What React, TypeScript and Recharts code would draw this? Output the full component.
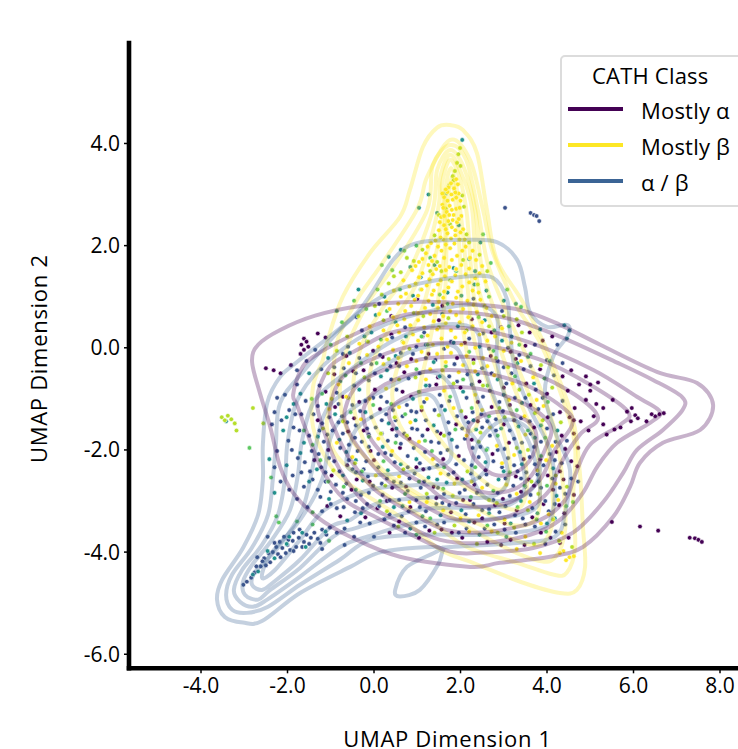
import { ScatterChart, Scatter, XAxis, YAxis, Legend } from 'recharts';

const xTicks = [-4, -2, 0, 2, 4, 6, 8];
const yTicks = [-6, -4, -2, 0, 2, 4];
const legendNames = ['Mostly α', 'Mostly β', 'α / β'];
const legendColors = ['#440154', '#fde725', '#3b6495'];

type Pair = number[];

const yellowDots: Pair[] = [
  [1.9,3.3],[1.78,3.22],[1.85,3.12],[1.7,3.05],[1.96,3.02],[1.62,2.95],[1.82,2.9],[2.0,2.88],[1.75,2.78],[1.58,2.8],[1.9,2.72],[1.68,2.66],[1.84,2.6],[2.02,2.58],[1.55,2.56],[1.72,2.48],[1.92,2.46],[1.62,2.4],[1.8,2.36],[2.06,2.32],[1.5,2.3],[1.7,2.24],[1.88,2.2],[1.98,2.12],[1.6,2.12],[1.32,2.05],[1.48,1.98],[1.76,1.95],[2.12,1.98],[2.28,1.9],[1.2,1.85],[1.4,1.8],[1.62,1.76],[1.92,1.8],[2.36,1.72],[2.5,1.6],[1.04,1.68],[1.26,1.62],[1.52,1.6],[1.74,1.58],[2.02,1.62],[2.2,1.55],[.88,1.52],[1.12,1.46],[1.36,1.44],[1.64,1.4],[1.88,1.42],[2.34,1.36],[2.58,1.3],[.68,1.32],[.96,1.26],[1.22,1.22],[1.48,1.24],[1.72,1.18],[2.04,1.2],[2.28,1.12],[.46,1.12],[.74,1.06],[1.02,1.02],[1.34,1.04],[1.6,.98],[1.9,.98],[2.16,.92],[2.46,.94],[.28,.9],[.56,.86],[.86,.82],[1.18,.78],[1.48,.78],[1.76,.72],[2.06,.76],[2.38,.7],[2.72,.62],[.12,.66],[.44,.6],[.7,.56],[1.02,.54],[1.38,.52],[1.66,.48],[1.98,.5],[2.28,.42],[2.96,.38],[-.1,.42],[.22,.34],[.58,.3],[.9,.26],[1.24,.24],[1.56,.18],[1.88,.2],[2.62,.14],[3.18,.1],[-.34,.08],[.1,.02],[.44,-.04],[1.1,-.08],[1.46,-.12],[1.78,-.1],[2.14,-.16],[2.52,-.2],[3.4,-.26],[-.58,-.3],[.76,-.36],[1.3,-.42],[1.96,-.48],[2.78,-.54],[3.68,-.58],[-.82,-.72],[.28,-.8],[1.62,-.84],[2.34,-.92],[3.12,-1.02],[3.92,-1.14],[-1.04,-1.2],[-.3,-1.4],[.84,-1.46],[2.68,-1.56],[3.5,-1.7],[4.12,-1.92],[-.86,-1.86],[.42,-2.02],[1.36,-2.18],[2.96,-2.26],[3.78,-2.4],[.04,-2.5],[1.86,-2.66],[2.5,-2.74],[3.3,-2.86],[4.26,-2.98],[.82,-3.02],[1.6,-3.18],[2.42,-3.28],[3.02,-3.36],[3.86,-3.44],[4.34,-3.62],[2.2,-3.6],[3.5,-3.7],[4.38,-3.98],[4.52,-4.1],[4.62,-4.08],[4.44,-4.16],[4.3,-4.02],
  [1.94,3.2],[1.72,3.14],[1.66,3.1],[1.88,3.04],[1.79,3.0],[1.58,3.02],[1.9,2.94],[1.7,2.88],[1.6,2.74],[1.98,2.74],[1.8,2.7],[1.74,2.6],[1.62,2.58],[1.96,2.52],[1.82,2.5],[1.52,2.46],[1.66,2.32],[1.88,2.3],[2.0,2.26],[1.78,2.14],[1.54,2.16],[1.42,2.1],[2.1,2.12],[1.86,2.04],[1.66,2.02],[1.24,1.98],[1.56,1.9],[2.04,1.9],[2.22,1.76],[1.8,1.72],[1.34,1.7],[1.12,1.74],[.96,1.6],[1.44,1.54],[1.66,1.52],[1.9,1.54],[2.12,1.44],[2.44,1.46],[1.04,1.38],[1.28,1.34],[1.54,1.32],[1.8,1.3],[2.2,1.28],[.82,1.2],[1.1,1.14],[1.38,1.12],[1.62,1.1],[1.94,1.1],[2.42,1.08],[.62,1.0],[.94,.94],[1.26,.92],[1.5,.9],[1.82,.86],[2.3,.84],[2.6,.78],[.36,.76],[.72,.72],[1.02,.68],[1.3,.66],[1.6,.62],[1.9,.64],[2.18,.6],[2.5,.5],[.54,.44],[.84,.44],[1.16,.4],[1.46,.36],[1.78,.34],[2.1,.3],[2.44,.26],[2.8,.22],[.3,.16],[.68,.1],[1.02,.14],[1.36,.06],[1.7,.02],[2.02,.06],[2.34,.0],[3.0,-.06],[-.16,-.14],[.22,-.32],[.56,-.2],[.98,-.26],[1.2,-.62],[1.66,-.28],[2.06,-.34],[2.34,-.46],[2.62,-.36],[3.2,-.7],[-.64,-.96],[-.1,-1.0],[.58,-1.16],[1.22,-1.0],[1.84,-1.18],[2.5,-1.22],[3.48,-1.34],[3.76,-1.02],[.1,-1.78],[1.04,-1.84],[2.14,-1.72],[2.84,-1.92],[3.24,-2.1],[3.98,-2.2],[4.2,-2.66],[-.5,-2.14],[.58,-2.52],[1.54,-2.46],[2.26,-2.62],[3.06,-2.68],[3.6,-3.02],[4.04,-3.26],[1.22,-3.02],[2.0,-3.34],[2.72,-3.6],[3.3,-3.94],[3.84,-4.02],
];
const limeDots: Pair[] = [
  [1.99,3.91],[1.95,3.79],[1.92,3.62],[1.87,3.46],[1.82,3.36],[1.74,3.18],[2.08,2.76],[1.66,2.72],[2.14,2.22],[1.4,2.2],[1.12,1.92],[.92,1.7],[2.44,1.82],[.62,1.48],[1.56,1.5],[2.62,1.5],[.34,1.26],[.18,1.04],[1.76,1.32],[.02,.82],[.92,.68],[2.56,.82],[-.36,.62],[1.5,.4],[3.0,.62],[-.62,.22],[.66,.12],[2.14,.34],[3.42,.3],[-.86,-.06],[.34,-.22],[2.3,-.3],[3.1,-.38],[3.86,-.34],[-1.06,-.5],[.58,-.62],[1.84,-.7],[3.36,-.82],[-.6,-.98],[1.1,-1.16],[2.02,-1.24],[3.02,-1.36],[3.72,-1.28],[-1.18,-1.58],[.16,-1.68],[1.62,-1.72],[2.42,-1.84],[3.3,-1.96],[-.44,-2.26],[.68,-2.38],[2.16,-2.42],[3.64,-2.62],[4.2,-2.5],[1.22,-2.86],[2.84,-3.04],[3.56,-3.18],[4.14,-3.36],[.3,-3.2],[1.86,-3.48],[2.86,-3.62],[4.28,-3.78],[-3.52,-1.36],[-3.45,-1.42],[-3.38,-1.33],[-3.3,-1.4],[-3.22,-1.48],[-3.18,-1.62],[-2.8,-1.18],[-2.56,-1.48],
  [2.0,3.56],[1.84,3.28],[2.04,2.98],[1.76,2.42],[1.5,2.6],[2.2,2.06],[.76,1.76],[1.46,1.68],[2.06,1.72],[.46,1.4],[1.3,1.5],[2.4,1.24],[.22,.54],[1.14,.62],[1.72,.58],[2.66,.42],[3.3,.56],[-.14,.12],[.82,-.02],[1.58,-.44],[2.82,-.2],[3.58,-.92],[-.22,-.58],[.96,-.58],[2.52,-.74],[4.12,-.78],[-.98,-1.0],[.48,-1.36],[1.5,-1.32],[2.9,-1.18],[3.9,-1.42],[-.72,-1.44],[.76,-1.72],[2.46,-1.66],[3.56,-2.0],[4.32,-1.46],[-.94,-2.4],[.26,-2.7],[1.82,-2.9],[2.66,-2.98],[3.8,-2.86],[4.46,-2.72],[.56,-3.5],[1.4,-3.62],[2.38,-3.84],[3.24,-3.52],[3.7,-3.84],[4.58,-3.9],
];
const greenDots: Pair[] = [
  [1.62,3.02],[.98,2.0],[2.52,2.22],[1.3,1.76],[.7,1.9],[2.7,1.66],[.42,1.52],[1.9,1.5],[3.08,1.14],[.08,1.14],[1.08,1.14],[2.66,1.0],[-.46,.92],[1.7,.86],[3.4,.8],[.3,.72],[2.2,.6],[-.74,.5],[.84,.42],[3.12,.42],[1.24,.06],[-1.0,.06],[2.76,-.06],[.06,-.3],[3.62,-.12],[1.66,-.36],[-.66,-.54],[1.04,-.86],[2.62,-.74],[3.94,-.6],[-1.44,-1.0],[.4,-1.1],[2.26,-1.18],[3.3,-1.22],[-1.62,-1.62],[-.12,-1.74],[1.18,-1.82],[2.86,-1.72],[3.96,-1.76],[-1.24,-2.2],[.22,-2.22],[1.62,-2.34],[3.14,-2.44],[4.0,-2.7],[-.7,-2.72],[.72,-2.86],[2.24,-2.92],[3.32,-3.12],[4.44,-3.1],[1.3,-3.34],[2.62,-3.48],[3.98,-3.6],[-1.42,-3.22],[-1.78,-3.4],[-2.26,-3.3],[-1.04,-3.78],[-2.88,-1.96],[-2.38,-2.54],[-2.2,-3.42],[-1.42,-3.46],
  [.18,1.62],[.6,1.14],[1.52,1.04],[2.42,.6],[-.18,.76],[1.1,.22],[2.2,-.08],[3.36,.06],[.16,.16],[-.3,-.3],[.98,-.42],[2.06,-.62],[3.26,-.56],[-1.2,-.9],[-.02,-1.12],[1.76,-.96],[2.66,-1.34],[4.02,-1.06],[-.54,-1.26],[.72,-1.3],[1.88,-1.6],[3.56,-1.62],[-1.42,-1.9],[.5,-1.86],[1.34,-2.02],[2.6,-2.0],[3.86,-2.12],[-.28,-2.42],[1.04,-2.62],[2.34,-2.34],[3.48,-2.7],[-1.06,-2.62],[.14,-3.0],[1.6,-2.76],[2.76,-2.8],[3.76,-3.36],[4.6,-3.02],[.98,-3.66],
];
const tealDots: Pair[] = [
  [2.04,4.07],[1.66,3.02],[1.26,3.0],[1.04,2.74],[1.46,2.64],[1.96,2.4],[1.4,1.62],[.62,1.92],[.34,1.78],[2.2,1.74],[2.46,2.06],[1.84,1.56],[1.08,1.38],[.9,1.02],[2.32,1.24],[2.02,1.02],[3.28,.86],[-.36,1.14],[.04,.64],[1.58,.66],[2.56,.54],[2.78,.34],[3.18,.22],[3.84,.36],[4.4,.44],[4.52,.34],[4.46,.18],[-.86,.72],[.5,.5],[1.94,.42],[-.22,.22],[1.2,.06],[2.44,.02],[3.56,-.18],[-1.06,-.2],[.3,-.44],[1.52,-.56],[2.86,-.62],[-1.5,-.5],[-.34,-.82],[.9,-1.0],[2.3,-1.42],[3.42,-1.08],[-1.86,-1.1],[-.9,-1.3],[1.38,-1.52],[3.86,-1.52],[-2.1,-1.62],[-1.3,-1.74],[.52,-1.58],[2.62,-1.98],[-1.7,-2.06],[-.64,-2.04],[.98,-2.18],[3.42,-2.28],[-2.42,-2.18],[-2.3,-2.84],[-.26,-2.6],[1.46,-2.58],[2.88,-2.58],[-1.04,-2.96],[.46,-3.12],[2.02,-3.18],[3.16,-3.44],[-.62,-3.38],[.84,-3.54],[2.44,-3.66],[3.78,-3.24],[4.18,-3.34],[-3.42,-1.44],[-1.58,-3.9],[-2.02,-3.84],[-2.3,-4.12],[-2.68,-4.38],[-1.12,-3.6],
  [2.34,1.5],[.84,1.58],[1.7,1.08],[2.6,1.12],[.24,1.0],[1.36,.84],[3.0,.92],[-.06,.3],[.74,.22],[1.84,.1],[2.96,.14],[-.56,-.1],[.5,-.16],[1.38,-.28],[2.4,-.52],[3.32,-.3],[4.06,-.26],[-1.7,-.9],[-.78,-.66],[.16,-.56],[1.2,-.74],[2.06,-.86],[3.0,-.92],[3.7,-.7],[-2.02,-1.36],[-1.1,-1.1],[-.2,-1.26],[.34,-1.48],[1.64,-1.22],[2.36,-1.6],[3.34,-1.54],[4.24,-1.62],[-1.62,-1.86],[-.8,-1.8],[.2,-1.94],[.96,-1.42],[1.8,-1.8],[2.94,-1.58],[3.72,-1.76],[-2.02,-2.3],[-1.32,-2.38],[-.42,-2.2],[.62,-2.28],[1.68,-2.64],[2.58,-2.24],[3.38,-2.04],[4.14,-2.36],[-1.5,-2.62],[-.72,-2.5],[.32,-2.4],[1.26,-2.54],[2.04,-2.58],[3.0,-2.42],[3.8,-2.62],[-.42,-2.78],[.66,-3.1],[1.54,-3.28],[2.66,-3.24],[3.4,-3.0],[4.22,-2.9],[-.3,-3.24],[1.12,-3.3],[2.2,-3.4],[3.06,-3.7],[4.0,-3.44],[-2.46,-3.98],[-1.96,-3.7],[-2.8,-4.44],[-1.66,-3.62],
];
const blueDots: Pair[] = [
  [3.03,2.74],[3.62,2.64],[3.7,2.6],[3.76,2.58],[3.82,2.48],[.12,.86],[-.4,.6],[2.3,.96],[2.52,.28],[2.96,.72],[3.72,.06],[4.24,.06],[.72,.4],[1.16,.3],[-1.26,-.74],[-1.78,-.72],[-2.06,-.92],[-2.24,-.98],[-1.96,-1.22],[-2.3,-1.26],[-2.14,-1.42],[-1.68,-1.3],[-1.86,-1.56],[-2.36,-1.5],[-1.4,-1.3],[-1.2,-1.48],[-1.5,-1.72],[-1.98,-1.82],[-2.24,-2.02],[-1.76,-2.16],[-1.44,-2.02],[-1.16,-1.84],[-.96,-1.62],[-.74,-1.34],[-.5,-1.12],[-.2,-1.04],[.16,-.96],[.52,-.82],[.8,-.6],[1.06,-.5],[1.28,-.74],[.4,-.62],[-.12,-.64],[-.46,-.74],[-.86,-.88],[-.06,-.32],[-.34,-.2],[-.72,-.12],[.62,-.1],[.98,.02],[1.42,-.24],[1.86,-.32],[2.16,-.52],[2.5,-.4],[2.86,-.26],[3.18,-.5],[3.46,-.42],[3.74,-.82],[4.16,-.54],[3.26,-.98],[2.9,-1.06],[2.52,-.96],[2.14,-.98],[1.74,-1.04],[1.4,-1.22],[.98,-1.26],[.66,-1.34],[.28,-1.3],[-.06,-1.36],[-.42,-1.52],[-.72,-1.68],[-.58,-1.9],[-.28,-1.84],[.04,-1.56],[.32,-1.82],[.7,-1.68],[1.0,-1.6],[1.32,-1.84],[1.72,-1.46],[2.04,-1.58],[2.48,-1.3],[2.82,-1.4],[3.14,-1.62],[3.6,-1.44],[4.14,-1.3],[4.36,-1.04],[3.7,-1.94],[3.42,-1.86],[3.02,-1.98],[2.68,-1.72],[2.28,-1.96],[1.92,-1.94],[1.54,-2.06],[1.18,-2.04],[.78,-2.12],[.48,-2.24],[.1,-2.08],[-.18,-2.22],[-.5,-2.38],[-.92,-2.22],[-1.12,-2.44],[-1.48,-2.42],[-1.88,-2.5],[-2.16,-2.62],[-1.62,-2.72],[-1.3,-2.78],[-.88,-2.68],[-.62,-2.96],[-.3,-2.88],[-.02,-2.7],[.3,-2.56],[.62,-2.64],[.94,-2.46],[1.28,-2.36],[1.72,-2.48],[2.08,-2.2],[2.42,-2.14],[2.76,-2.22],[3.1,-2.16],[3.52,-2.44],[3.92,-2.3],[4.06,-2.08],[4.34,-2.26],[4.46,-1.82],[4.56,-2.56],[4.72,-2.62],[4.42,-2.86],[3.96,-3.0],[3.62,-2.88],[3.22,-2.7],[2.86,-2.84],[2.44,-2.54],[2.1,-2.78],[1.62,-2.86],[1.08,-2.74],[.58,-2.98],[.2,-2.88],[-.16,-3.06],[-.44,-3.22],[-.86,-3.14],[-1.2,-3.2],[-.1,-3.44],[.24,-3.36],[.64,-3.3],[1.06,-3.12],[1.44,-3.06],[1.9,-3.04],[2.3,-3.06],[2.66,-3.16],[3.04,-3.1],[3.44,-3.34],[3.72,-3.5],[4.04,-3.2],[4.42,-3.46],[.98,-3.42],[1.62,-3.42],[2.14,-3.54],[2.78,-3.46],[3.28,-3.62],[3.96,-3.84],[-3.02,-4.64],[-2.94,-4.58],[-2.84,-4.5],[-2.76,-4.4],[-2.62,-4.28],[-2.5,-4.26],[-2.54,-4.12],[-2.4,-4.2],[-2.34,-4.0],[-2.22,-4.04],[-2.26,-3.9],[-2.12,-3.92],[-2.04,-4.02],[-2.0,-3.86],[-1.94,-3.96],[-1.88,-3.78],[-1.8,-3.9],[-1.74,-3.72],[-1.62,-3.8],[-1.56,-3.66],[-1.46,-3.72],[-1.38,-3.62],[-1.3,-3.74],[-1.2,-3.56],[-1.1,-3.66],[-2.08,-3.7],[-1.72,-3.56],[-1.2,-3.94],[-.68,-3.86],[-.46,-3.7],[.0,-3.7],[-2.7,-4.1],[-2.46,-3.7],[-.92,-.38],[-1.36,-.04],[-.28,.34],[1.78,.12],
  [-.02,-.98],[.3,-1.06],[.44,-1.22],[.76,-1.12],[1.16,-1.06],[1.52,-.92],[1.92,-.66],[2.26,-.72],[2.68,-.84],[3.06,-.7],[3.5,-.98],[3.9,-.98],[-1.58,-1.04],[-1.82,-1.3],[-1.3,-1.14],[-1.04,-1.36],[-.82,-1.1],[-.62,-1.46],[-.32,-1.24],[-.16,-1.58],[.18,-1.42],[.5,-1.42],[.86,-1.24],[1.2,-1.42],[1.56,-1.14],[1.92,-1.34],[2.28,-1.26],[2.62,-1.44],[2.98,-1.24],[3.4,-1.38],[3.8,-1.2],[-1.72,-1.62],[-1.26,-1.62],[-1.08,-1.7],[-.82,-1.46],[-.44,-1.76],[-.12,-1.7],[.18,-1.68],[.52,-1.72],[.88,-1.58],[1.12,-1.72],[1.46,-1.64],[1.74,-1.68],[2.18,-1.46],[2.5,-1.56],[2.82,-1.62],[3.24,-1.78],[3.62,-1.68],[4.0,-1.58],[-1.9,-2.0],[-1.6,-2.24],[-1.28,-2.08],[-1.04,-2.16],[-.78,-1.96],[-.38,-2.02],[-.12,-1.94],[.26,-2.06],[.62,-1.88],[.92,-1.96],[1.5,-1.86],[1.7,-2.0],[2.1,-1.78],[2.46,-1.94],[2.86,-2.0],[3.24,-2.3],[3.6,-2.14],[3.86,-1.84],[4.2,-1.84],[-2.3,-2.34],[-1.68,-2.44],[-1.22,-2.34],[-.8,-2.42],[-.58,-2.2],[-.24,-2.38],[.1,-2.34],[.4,-2.1],[.78,-2.34],[1.06,-2.26],[1.46,-2.3],[1.9,-2.28],[2.26,-2.3],[2.6,-2.48],[2.96,-2.34],[3.32,-2.42],[3.72,-2.28],[4.18,-2.2],[-1.96,-2.78],[-1.42,-2.58],[-1.12,-2.62],[-.64,-2.66],[-.42,-2.44],[-.14,-2.52],[.18,-2.66],[.46,-2.62],[.82,-2.56],[1.16,-2.62],[1.48,-2.74],[1.84,-2.44],[2.24,-2.46],[2.62,-2.68],[3.04,-2.56],[3.4,-2.56],[3.78,-2.48],[4.12,-2.56],[-1.78,-2.96],[-1.24,-2.92],[-1.0,-2.82],[-.72,-2.84],[-.42,-3.0],[-.12,-2.84],[.12,-3.1],[.36,-2.98],[.78,-2.8],[.98,-2.98],[1.24,-2.94],[1.58,-3.04],[1.98,-2.84],[2.38,-2.84],[2.76,-2.98],[3.14,-2.9],[3.5,-2.72],[3.86,-2.74],[4.3,-2.74],[-1.54,-3.12],[-1.0,-3.06],[-.7,-3.12],[-.26,-3.14],[.36,-3.26],[.8,-3.2],[1.2,-3.2],[1.74,-3.08],[2.12,-3.26],[2.5,-3.18],[2.9,-3.22],[3.26,-3.28],[3.66,-3.14],[4.18,-3.06],[-.68,-3.54],[-.32,-3.42],[.46,-3.48],[.72,-3.62],[1.18,-3.5],[1.46,-3.46],[1.96,-3.62],[2.56,-3.54],[3.02,-3.56],[3.5,-3.46],[4.2,-3.6],[-1.86,-3.62],[-1.98,-3.76],[-2.18,-3.8],[-2.3,-3.82],[-2.44,-4.02],[-2.58,-4.18],[-2.72,-4.28],[-2.16,-4.1],[-1.86,-3.98],[-1.66,-3.9],[-1.5,-3.84],[-1.24,-3.82],[-1.02,-3.52],[-.86,-3.62],[.38,-.36],[.9,-.12],[1.2,-.2],[.14,-.14],[-.6,.02],[-.16,.12],[.42,.2],[1.62,-.02],[2.2,.18],[2.66,-.02],[3.1,.0],[3.36,-.14],[-1.56,-.26],[-1.78,-.44],[-1.22,-.42],[-.7,-.4],[-.42,-.5],[.02,-.5],[.58,-.36],[1.74,-.56],[2.72,-.5],[3.0,-.38],[3.62,-.36],[4.0,-.24],[4.36,-.3],
];
const purpleDots: Pair[] = [
  [-1.62,.18],[-1.56,.12],[-1.68,.06],[-1.52,.02],[-1.62,-.04],[-1.7,-.12],[-2.5,-.4],[-2.32,-.44],[-2.16,-.5],[-1.92,-.34],[-1.3,.28],[-1.12,.2],[-.64,-.16],[.4,.62],[.98,.68],[1.12,.22],[1.58,.82],[2.1,.1],[2.94,.4],[3.34,.44],[3.6,.3],[3.9,.14],[4.12,.22],[3.16,-.08],[2.7,-.16],[.86,-.22],[.2,-.18],[-.24,-.44],[-.92,-.52],[-1.12,-.86],[.7,-.48],[1.48,-.58],[2.0,-.78],[2.44,-.66],[3.0,-.78],[3.52,-.7],[4.0,-.9],[4.36,-.56],[4.56,-.44],[4.74,-.72],[5.0,-.84],[5.18,-.68],[4.9,-.56],[5.0,-.72],[4.9,-1.02],[5.14,-1.1],[4.64,-1.18],[4.3,-1.26],[4.02,-1.36],[5.3,-1.18],[5.52,-1.02],[5.85,-1.25],[5.96,-1.18],[6.04,-1.32],[6.1,-1.38],[5.94,-1.44],[6.3,-1.44],[6.5,-1.34],[6.6,-1.3],[6.7,-1.28],[6.42,-1.3],[5.7,-1.56],[5.56,-1.6],[5.38,-1.7],[5.3,-1.5],[4.96,-1.62],[4.62,-1.68],[4.34,-1.72],[4.72,-1.96],[4.56,-2.22],[4.22,-2.04],[3.84,-2.18],[3.24,-1.42],[2.72,-1.16],[2.12,-1.36],[1.54,-1.68],[.86,-.96],[.14,-1.2],[-.34,-1.06],[-.6,-1.64],[-1.06,-2.0],[-.08,-2.02],[.6,-1.96],[1.14,-2.38],[1.96,-2.12],[2.58,-2.4],[3.28,-2.52],[4.02,-2.5],[4.7,-2.32],[4.38,-2.58],[3.7,-2.7],[2.98,-2.96],[2.22,-2.98],[1.38,-2.72],[.42,-2.74],[-.4,-2.58],[-.78,-3.3],[.08,-3.14],[.84,-3.12],[1.78,-3.22],[2.5,-3.34],[3.3,-3.18],[3.92,-3.06],[4.28,-3.08],[1.28,-3.58],[2.04,-3.72],[2.62,-3.8],[3.16,-3.76],[3.48,-3.86],[3.86,-3.62],[4.08,-3.72],[4.3,-3.82],[5.5,-3.41],[6.15,-3.5],[6.57,-3.58],[7.3,-3.72],[7.42,-3.73],[7.5,-3.76],[7.58,-3.8],
  [1.0,.96],[.4,.26],[1.5,.54],[2.26,.56],[2.72,.3],[3.5,.04],[-.48,-.46],[-.02,-.06],[.52,-.3],[1.26,-.12],[1.92,-.2],[2.3,-.24],[3.28,-.22],[3.84,-.42],[4.48,-.84],[-.72,-.96],[.02,-.82],[.66,-.86],[1.44,-.72],[2.4,-1.06],[3.14,-1.12],[3.62,-1.12],[4.52,-1.36],[4.78,-1.44],[-.9,-1.16],[-.46,-1.38],[.42,-1.6],[1.1,-1.22],[1.9,-1.5],[2.4,-1.44],[3.0,-1.5],[3.7,-1.56],[4.62,-1.42],[5.08,-1.34],[-1.3,-1.42],[-.24,-1.62],[.82,-1.78],[1.24,-1.6],[2.26,-1.8],[3.12,-1.86],[4.42,-1.98],[-1.38,-2.2],[-.62,-2.3],[.0,-2.2],[.98,-2.34],[1.6,-2.18],[2.74,-2.08],[3.46,-2.18],[4.3,-2.42],[-.98,-2.5],[-.1,-2.62],[.74,-2.72],[1.92,-2.56],[2.32,-2.68],[3.58,-2.58],[4.14,-2.78],[-.52,-2.78],[.3,-3.0],[1.44,-2.94],[2.06,-2.98],[2.8,-3.08],[3.4,-2.82],[-1.08,-3.1],[-.2,-3.32],[.58,-3.4],[1.56,-3.56],[2.32,-3.42],[3.02,-3.44],[3.66,-3.32],[4.4,-3.24],[.36,-3.62],[1.04,-3.72],[1.8,-3.62],[2.94,-3.86],[4.5,-3.72],[4.62,-2.88],
];

const dotGroups = [
  { name: 'purple', fill: '#440154', points: purpleDots },
  { name: 'blue', fill: '#3b528b', points: blueDots },
  { name: 'teal', fill: '#21918c', points: tealDots },
  { name: 'green', fill: '#5ec962', points: greenDots },
  { name: 'lime', fill: '#b5de2b', points: limeDots },
  { name: 'yellow', fill: '#fde725', points: yellowDots },
];

const yellowLevels: Pair[][] = [
  [[1.76,4.36],[2.06,4.26],[2.38,3.81],[2.61,2.7],[2.84,1.72],[3.45,.88],[4.07,-.18],[4.6,-1.41],[4.76,-2.45],[4.83,-3.5],[4.88,-4.29],[4.69,-4.74],[4.3,-4.8],[3.45,-4.6],[2.29,-4.21],[1.53,-3.95],[.6,-3.31],[-.62,-2.64],[-1.09,-2.19],[-1.41,-1.55],[-1.41,-.76],[-1.18,-.23],[-1.09,.1],[-.72,1.0],[-.09,1.86],[.6,2.56],[.83,3.09],[1.13,3.93],[1.46,4.31]],
  [[1.76,4.07],[2.22,3.68],[2.52,2.7],[2.75,1.86],[3.31,.8],[3.84,.1],[4.37,-1.02],[4.65,-1.94],[4.6,-2.98],[4.65,-3.9],[4.46,-4.4],[4.14,-4.44],[3.31,-4.21],[2.15,-3.9],[1.36,-3.43],[.21,-2.84],[-.79,-2.19],[-1.09,-1.55],[-.97,-.88],[-.86,.1],[-.39,.94],[.14,1.59],[.99,2.7],[1.23,3.35]],
  [[1.76,3.97],[2.13,3.68],[2.4,2.7],[2.64,1.62],[3.14,.55],[3.72,-.53],[4.18,-1.61],[4.37,-2.68],[4.42,-3.56],[4.18,-4.11],[3.72,-4.15],[2.68,-3.76],[1.53,-3.17],[.37,-2.58],[-.51,-1.8],[-.79,-.92],[-.6,.06],[-.09,.94],[.48,1.62],[1.23,2.7],[1.36,3.58]],
  [[1.76,3.87],[2.08,3.52],[2.34,2.7],[2.5,1.53],[2.91,.45],[3.49,-.72],[3.95,-1.7],[4.12,-2.78],[4.12,-3.46],[3.84,-3.85],[3.26,-3.76],[2.22,-3.37],[1.06,-2.88],[.09,-2.29],[-.37,-1.51],[-.49,-.82],[-.28,.06],[.25,.84],[.83,1.53],[1.36,2.7],[1.46,3.48]],
  [[1.76,3.78],[2.03,3.39],[2.27,2.7],[2.4,1.23],[2.8,.25],[3.26,-.82],[3.72,-1.8],[3.84,-2.78],[3.72,-3.37],[3.14,-3.46],[2.22,-3.07],[1.18,-2.58],[.37,-2.0],[-.09,-1.21],[-.05,-.33],[.48,.55],[1.02,1.33],[1.48,2.7],[1.53,3.33]],
  [[1.76,3.68],[1.99,3.29],[2.15,2.6],[2.32,.94],[2.68,-.04],[3.03,-.92],[3.42,-1.9],[3.53,-2.78],[3.26,-3.17],[2.45,-2.88],[1.53,-2.39],[.72,-1.7],[.42,-.92],[.72,.06],[1.18,.94],[1.6,2.6],[1.57,3.19]],
  [[1.78,3.52],[1.94,2.99],[2.06,2.21],[2.27,.35],[2.57,-.53],[2.91,-1.41],[3.14,-2.29],[2.91,-2.78],[2.22,-2.39],[1.53,-1.8],[1.06,-1.02],[1.25,-.04],[1.48,.94],[1.64,2.0],[1.64,2.99]],
  [[1.8,3.33],[1.9,2.7],[1.99,1.72],[2.03,.55],[2.22,-.43],[2.4,-1.41],[2.11,-1.61],[1.69,-1.02],[1.57,.06],[1.66,1.33],[1.69,2.6]],
];

const blueLevels: Pair[][] = [
  [[.99,2.05],[2.06,2.11],[2.84,2.07],[3.31,1.72],[3.49,1.19],[3.61,.69],[4.0,.41],[4.46,.45],[4.49,.25],[4.14,-.18],[3.95,-.92],[4.23,-1.74],[4.53,-2.39],[4.42,-3.23],[4.18,-3.7],[3.31,-3.82],[1.76,-3.9],[1.6,-3.95],[1.48,-4.25],[1.06,-4.74],[.6,-4.87],[.49,-4.74],[.76,-4.29],[1.53,-3.92],[.21,-3.99],[-.55,-4.29],[-1.71,-4.8],[-2.59,-5.35],[-3.03,-5.38],[-3.45,-5.27],[-3.63,-4.93],[-3.51,-4.54],[-3.03,-3.92],[-2.68,-3.27],[-2.57,-2.58],[-2.57,-1.9],[-2.47,-1.08],[-2.17,-.57],[-1.71,-.23],[-.39,.69],[.44,1.72]],
  [[1.13,1.27],[2.06,1.39],[2.75,1.37],[3.08,.94],[3.14,.35],[3.26,-.43],[3.61,-1.21],[4.07,-2.0],[4.18,-2.78],[4.07,-3.37],[3.72,-3.56],[2.45,-3.66],[1.06,-3.66],[-.09,-3.76],[-.79,-4.15],[-1.71,-4.64],[-2.45,-5.07],[-2.94,-5.19],[-3.28,-5.13],[-3.42,-4.84],[-3.28,-4.44],[-2.82,-3.91],[-2.45,-3.27],[-2.34,-2.58],[-2.27,-1.9],[-2.17,-1.08],[-1.6,-.43],[-.67,.45],[.25,1.04]],
  [[-1.99,-1.8],[-1.71,-.92],[-.9,-.14],[.25,.45],[1.41,.74],[2.34,.84],[2.84,.59],[2.84,-.23],[3.1,-1.12],[3.61,-1.9],[3.84,-2.78],[3.61,-3.21],[2.45,-3.37],[1.06,-3.41],[-.16,-3.7],[-.79,-3.9],[-1.71,-4.48],[-2.47,-4.93],[-2.8,-5.07],[-3.1,-4.97],[-3.24,-4.74],[-3.05,-4.35],[-2.59,-3.86],[-2.22,-3.27],[-2.06,-2.58]],
  [[-1.66,-1.8],[-1.36,-1.02],[-.55,-.43],[.49,.16],[1.53,.45],[2.34,.35],[2.5,-.23],[2.8,-1.02],[3.26,-1.8],[3.49,-2.68],[3.14,-3.07],[2.22,-3.13],[1.06,-3.17],[-.39,-3.52],[-.95,-3.7],[-1.71,-4.31],[-2.4,-4.74],[-2.68,-4.93],[-2.98,-4.84],[-3.03,-4.58],[-2.82,-4.25],[-2.36,-3.76],[-1.94,-3.17],[-1.76,-2.49]],
  [[-1.29,-1.7],[-1.02,-1.12],[-.21,-.59],[.83,-.08],[1.76,.06],[2.11,-.33],[2.45,-1.12],[2.91,-1.9],[3.1,-2.58],[2.68,-2.92],[1.53,-2.92],[.14,-3.03],[-.55,-3.37],[-1.02,-3.52],[-1.71,-4.15],[-2.34,-4.6],[-2.59,-4.74],[-2.82,-4.64],[-2.75,-4.39],[-2.17,-3.86],[-1.66,-3.17],[-1.43,-2.39]],
  [[-1.02,-1.8],[-.67,-1.31],[.14,-.86],[1.18,-.47],[1.76,-.72],[2.11,-1.51],[2.64,-2.19],[2.22,-2.62],[1.06,-2.68],[-.09,-2.78],[-1.13,-3.17],[-1.71,-3.76],[-2.29,-4.35],[-2.59,-4.5],[-2.4,-4.05],[-1.71,-3.37],[-1.2,-2.58]],
  [[-.55,-1.9],[-.32,-1.51],[.49,-1.12],[1.29,-.92],[1.64,-1.51],[1.76,-2.19],[1.06,-2.39],[.02,-2.49],[-.6,-2.35]],
  [[2.45,-1.8],[3.03,-1.41],[3.61,-1.64],[3.84,-2.39],[3.49,-2.88],[2.68,-2.98],[2.27,-2.49]],
];

const purpleLevels: Pair[][] = [
  [[-2.82,-.27],[-2.68,.06],[-2.17,.35],[-1.36,.63],[-.32,.82],[1.06,.9],[2.22,.86],[3.38,.74],[4.3,.45],[5.23,.06],[6.54,-.47],[7.47,-.69],[7.84,-1.12],[7.54,-1.61],[6.68,-1.86],[6.15,-2.25],[5.92,-2.72],[5.53,-3.31],[4.83,-3.9],[4.07,-4.09],[2.91,-4.21],[2.22,-4.29],[.6,-4.09],[-.55,-3.7],[-1.32,-3.31],[-1.87,-2.84],[-2.17,-2.33],[-2.4,-1.55],[-2.64,-.88]],
  [[-1.87,-.92],[-1.71,-.47],[-1.41,-.18],[-.39,.29],[.76,.65],[2.06,.69],[3.21,.55],[4.3,.22],[5.62,-.29],[6.45,-.63],[7.12,-.96],[7.14,-1.21],[6.68,-1.61],[6.08,-2.0],[5.76,-2.45],[5.29,-3.03],[4.6,-3.62],[3.68,-3.92],[2.52,-4.01],[1.76,-3.99],[.76,-3.62],[-.02,-3.29],[-.67,-2.98],[-1.2,-2.39],[-1.55,-1.66],[-1.78,-1.12]],
  [[-1.32,-1.02],[-1.02,-.37],[-.39,-.04],[.37,.29],[1.29,.39],[2.45,.35],[3.61,.1],[5.06,-.43],[6.08,-.96],[6.61,-1.25],[6.38,-1.47],[5.62,-1.86],[5.16,-2.33],[4.83,-2.84],[4.3,-3.37],[3.61,-3.66],[2.52,-3.82],[1.53,-3.76],[.6,-3.41],[-.21,-3.03],[-.79,-2.39],[-1.13,-1.7]],
  [[-1.02,-1.21],[-.74,-.59],[.02,-.2],[1.06,.06],[2.45,.06],[3.84,-.23],[4.99,-.72],[5.87,-1.25],[5.69,-1.51],[4.99,-1.9],[4.65,-2.49],[4.42,-2.98],[3.84,-3.37],[2.68,-3.6],[1.64,-3.56],[.83,-3.21],[.02,-2.78],[-.55,-2.19],[-.9,-1.61]],
  [[-.67,-1.21],[-.37,-.72],[.37,-.39],[1.29,-.2],[2.45,-.2],[3.61,-.47],[4.65,-.92],[5.18,-1.37],[4.76,-1.7],[4.3,-2.29],[4.07,-2.78],[3.49,-3.17],[2.68,-3.37],[1.76,-3.33],[.95,-2.98],[.25,-2.55],[-.32,-2.0],[-.62,-1.57]],
  [[-.21,-1.12],[.25,-.72],[1.18,-.47],[2.34,-.47],[3.49,-.72],[4.42,-1.21],[4.58,-1.51],[4.18,-2.0],[3.84,-2.58],[3.26,-2.98],[2.57,-3.11],[1.76,-3.03],[1.18,-2.68],[.6,-2.39],[.02,-1.9],[-.21,-1.51]],
  [[.37,-1.21],[1.06,-.86],[2.22,-.78],[3.38,-1.06],[4.07,-1.51],[3.95,-2.0],[3.56,-2.58],[3.03,-2.82],[2.34,-2.78],[1.76,-2.39],[1.18,-2.0],[.55,-1.64]],
  [[2.22,-1.51],[2.91,-1.25],[3.65,-1.51],[3.72,-2.0],[3.38,-2.39],[2.8,-2.49],[2.27,-2.09]],
];

const contourGroups = [
  { color: '#fde725', levels: yellowLevels },
  { color: '#3b6495', levels: blueLevels },
  { color: '#440154', levels: purpleLevels },
];

const toPoints = (pairs: Pair[]) => pairs.map(([x, y]) => ({ x, y }));

// closed catmull-rom, recharts hands this to d3 as the curve type
const closedCurve = (ctx: any) => {
  let pts: number[][] = [];
  return {
    areaStart() {},
    areaEnd() {},
    lineStart() {
      pts = [];
    },
    point(x: number, y: number) {
      pts.push([+x, +y]);
    },
    lineEnd() {
      const n = pts.length;
      ctx.moveTo(pts[0][0], pts[0][1]);
      for (let i = 0; i < n; i++) {
        const p0 = pts[(i - 1 + n) % n];
        const p1 = pts[i];
        const p2 = pts[(i + 1) % n];
        const p3 = pts[(i + 2) % n];
        ctx.bezierCurveTo(
          p1[0] + (p2[0] - p0[0]) / 6,
          p1[1] + (p2[1] - p0[1]) / 6,
          p2[0] - (p3[0] - p1[0]) / 6,
          p2[1] - (p3[1] - p1[1]) / 6,
          p2[0],
          p2[1],
        );
      }
      ctx.closePath();
    },
  };
};

const Dot = (props: any) => (
  <circle cx={props.cx} cy={props.cy} r={2.3} fill={props.fill} stroke="#fff" strokeWidth={0.6} />
);
const NoDot = () => <g />;

const fontFamily = '"Open Sans", sans-serif';

const LegendBox = () => (
  <div
    style={{
      boxSizing: 'border-box',
      width: 190,
      height: 152,
      border: '2px solid #dcdcdc',
      borderRadius: 5,
      background: '#fff',
      fontFamily,
      fontSize: 22,
      color: '#000',
      position: 'relative',
    }}
  >
    <div style={{ position: 'absolute', left: 30, top: 3, whiteSpace: 'nowrap', letterSpacing: 0.2 }}>CATH Class</div>
    {legendNames.map((name, i) => (
      <div key={name}>
        <div
          style={{
            position: 'absolute',
            left: 6,
            top: 50 + i * 36,
            width: 55,
            height: 4,
            background: legendColors[i],
          }}
        />
        <div style={{ position: 'absolute', left: 79, top: 38 + i * 36, whiteSpace: 'nowrap', letterSpacing: 0.2 }}>{name}</div>
      </div>
    ))}
  </div>
);

export default function App() {
  return (
    <div style={{ position: 'absolute', left: 0, top: 0, width: 738, height: 749, overflow: 'hidden' }}>
      <ScatterChart width={738} height={749} margin={{ top: 43, right: 0, bottom: 0, left: 0 }}>
        <XAxis
          type="number"
          dataKey="x"
          domain={[-5.665, 8.416]}
          ticks={xTicks}
          tickFormatter={(v: number) => v.toFixed(1)}
          height={80.7}
          allowDataOverflow
          tickSize={5}
          tickMargin={5}
          tick={{ fill: '#000', fontSize: 21, fontFamily }}
          tickLine={{ stroke: '#000', strokeWidth: 1.5 }}
          axisLine={{ stroke: '#000', strokeWidth: 4.6, strokeLinecap: 'square' }}
          label={{ value: 'UMAP Dimension 1', position: 'insideBottom', offset: 2, dx: 14, fill: '#000', fontSize: 22, fontFamily, letterSpacing: 0.7 }}
        />
        <YAxis
          type="number"
          dataKey="y"
          domain={[-6.275, 5.967]}
          ticks={yTicks}
          tickFormatter={(v: number) => v.toFixed(1)}
          width={129}
          allowDataOverflow
          tickSize={5}
          tickMargin={4}
          tick={{ fill: '#000', fontSize: 21, fontFamily }}
          tickLine={{ stroke: '#000', strokeWidth: 1.5 }}
          axisLine={{ stroke: '#000', strokeWidth: 4.6, strokeLinecap: 'square' }}
          label={{ value: 'UMAP Dimension 2', angle: -90, position: 'insideLeft', offset: 39, dy: 3, fill: '#000', fontSize: 22, fontFamily, letterSpacing: 0.7, style: { textAnchor: 'middle' } }}
        />
        {dotGroups.map((g) => (
          <Scatter
            key={g.name}
            name={g.name}
            data={toPoints(g.points)}
            fill={g.fill}
            shape={Dot}
            isAnimationActive={false}
            legendType="none"
          />
        ))}
        {contourGroups.map((g) =>
          g.levels.map((level, i) => (
            <Scatter
              key={g.color + i}
              data={toPoints(level)}
              fill={g.color}
              shape={NoDot}
              line={{ stroke: g.color, strokeWidth: 4, strokeOpacity: 0.3, fill: 'none' }}
              lineJointType={closedCurve as any}
              isAnimationActive={false}
              legendType="none"
            />
          )),
        )}
        <Legend
          layout="vertical"
          align="center"
          verticalAlign="middle"
          content={<LegendBox />}
          wrapperStyle={{ left: 560, top: 55, width: 190, height: 152 }}
        />
      </ScatterChart>
    </div>
  );
}
